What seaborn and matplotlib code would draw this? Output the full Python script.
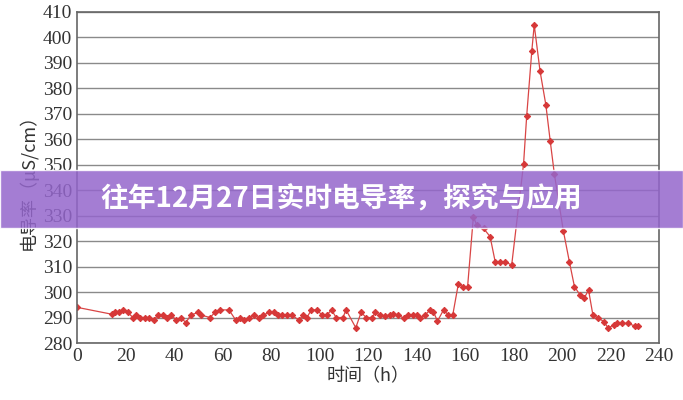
import matplotlib
matplotlib.use("Agg")
import matplotlib.pyplot as plt
import seaborn as sns
import pandas as pd
from matplotlib.patches import Rectangle

time_h = [0, 14.3, 15.4, 17.3, 19.1, 20.9, 23.0, 24.2, 26.1, 27.9, 29.7, 31.5, 33.4, 35.2, 37.0, 38.9,
          40.8, 42.8, 44.8, 46.9, 49.9, 51.0, 54.8, 56.8, 58.8, 62.6, 65.4, 67.2, 69.0, 70.9, 72.9,
          74.8, 76.7, 79.2, 81.0, 82.8, 84.5, 86.5, 88.5, 91.4, 93.3, 94.7, 96.6, 98.8, 101.0, 103.0,
          104.9, 106.8, 109.6, 110.9, 114.9, 117.1, 119.2, 121.6, 123.0, 124.9,
          127.0, 129.1, 130.4, 132.5, 134.6, 136.6, 138.7, 140.1, 141.4, 143.5, 145.6, 146.9, 148.6,
          151.1, 153.1, 154.9, 157.2, 159.3, 161.0, 163.4, 164.8, 167.6, 170.3, 172.4, 174.4, 176.5,
          179.2, 184.1, 185.4, 187.5, 188.5, 190.9, 193.3, 195.1, 196.8, 200.5, 203.0, 205.1, 207.4,
          209.1, 210.9, 212.7, 215.0, 217.3, 219.0, 221.2, 222.8, 224.9, 227.1, 230.0, 231.5]
conductivity = [294, 291.3, 292.3, 292.3, 293, 292, 290, 291, 290, 290, 290, 289, 291, 291, 290, 291,
                289, 290, 288, 291, 292, 291, 290, 292, 293, 293, 289, 290, 289, 290, 291,
                290, 291, 292, 292, 291, 291, 291, 291, 289, 291, 290, 293, 293, 291, 291,
                293, 290, 290, 293, 286, 292, 290, 290, 292, 291,
                290.6, 291.0, 291.4, 291.0, 289.7, 291.0, 291.0, 291.0, 289.7, 291.0, 293.0, 292.3, 288.6,
                293.0, 291.0, 291.0, 303.2, 301.9, 301.9, 329.6, 326.3, 325.0, 321.8, 311.9, 311.9, 311.9,
                310.6, 350.3, 369.3, 394.7, 404.9, 386.8, 373.5, 359.3, 346.4, 324.1, 311.9, 302.1, 298.9,
                297.6, 300.8, 291.0, 289.7, 288.4, 285.8, 287.1, 287.7, 287.7, 287.7, 286.7, 286.7]
x_ticks = list(range(0, 241, 20))
y_ticks = list(range(280, 411, 10))

sns.set_style("white")
plt.rcParams['font.family'] = ['Noto Sans CJK SC', 'DejaVu Sans']

df = pd.DataFrame({"t": time_h, "c": conductivity})
fig = plt.figure(figsize=(6.83, 4.0), dpi=100)
ax = fig.add_axes([0.113, 0.1425, 0.852, 0.8275])
for y in y_ticks:
    ax.axhline(y, color="#8a8a8a", lw=1.0, zorder=0)
sns.lineplot(data=df, x="t", y="c", ax=ax, color="#d94545", lw=0.9, marker="D",
             markersize=3.2, markeredgecolor="#d63838", markerfacecolor="#d63838", sort=False)
ax.set_xlim(0, 240)
ax.set_ylim(280, 410)
ax.set_xticks(x_ticks)
ax.set_yticks(y_ticks)
ax.tick_params(axis="both", labelsize=14, colors="#333333", length=5, direction="in")
ax.tick_params(axis="y", length=0)
for lab in ax.get_xticklabels() + ax.get_yticklabels():
    lab.set_family(["Liberation Serif", "DejaVu Serif"])
for s in ax.spines.values():
    s.set_color("#666666")
    s.set_linewidth(1.2)
ax.set_xlabel("时间（h）", fontsize=13, color="#333333", labelpad=2)
ax.set_ylabel("电导率（μS/cm）", fontsize=13, color="#333333", labelpad=4)

fig.patches.append(Rectangle((0, 1 - 228 / 400), 1, 58 / 400, transform=fig.transFigure,
                             facecolor="#9466cc", alpha=0.85, zorder=5))
fig.text(0.5, 1 - 199 / 400, "往年12月27日实时电导率，探究与应用", ha="center", va="center",
         fontsize=20, fontweight="bold", color="white", zorder=6)
fig.savefig("out.png", dpi=100)
